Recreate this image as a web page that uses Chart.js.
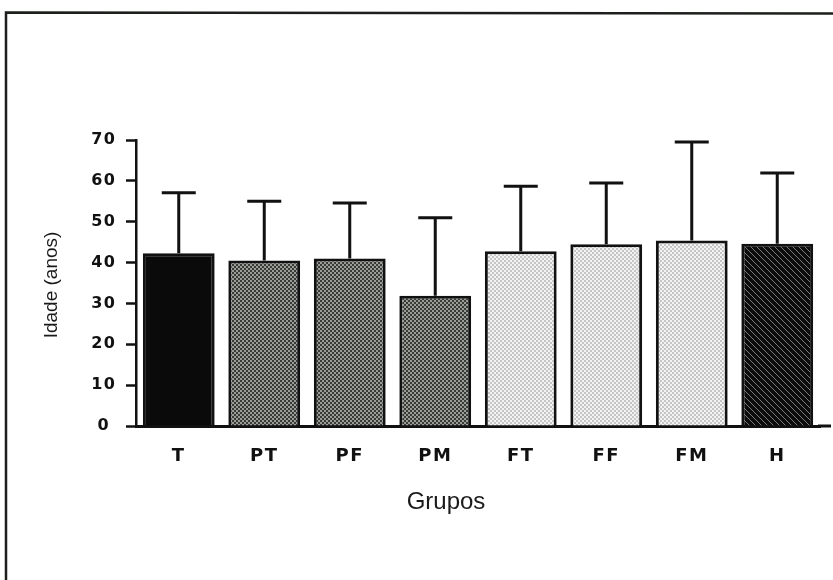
<!DOCTYPE html>
<html>
<head>
<meta charset="utf-8">
<script src="https://cdn.jsdelivr.net/npm/chart.js@4/dist/chart.umd.min.js"></script>
<style>
  html, body { margin: 0; padding: 0; background: #fff; }
  #wrap { width: 833px; height: 580px; }
</style>
</head>
<body>
<div id="wrap"><canvas id="c" width="833" height="580"></canvas></div>
<script>
// ---- data ----
const categories = ['T', 'PT', 'PF', 'PM', 'FT', 'FF', 'FM', 'H'];
const means = [42.3, 40.5, 41.0, 31.9, 42.8, 44.5, 45.4, 44.6];
const sds   = [14.8, 14.5, 13.6, 19.1, 15.9, 15.0, 24.1, 17.3];
const yMin = 0, yMax = 70, yLabelStep = 10, yMinorStep = 5;
const yTitle = 'Idade (anos)';
const xTitle = 'Grupos';

// ---- fill styles ----
const fillKinds = ['solid', 'dark', 'dark', 'dark', 'light', 'light', 'light', 'hatch'];

function makePattern(kind) {
  const c = document.createElement('canvas');
  const g = c.getContext('2d');
  if (kind === 'solid') return '#0a0a0a';
  if (kind === 'dark') {
    c.width = 4; c.height = 4;
    g.fillStyle = '#9a9c98'; g.fillRect(0, 0, 4, 4);
    g.fillStyle = '#393b37'; g.fillRect(0, 0, 2, 2); g.fillRect(2, 2, 2, 2);
  } else if (kind === 'light') {
    c.width = 4; c.height = 4;
    g.fillStyle = '#f3f3f3'; g.fillRect(0, 0, 4, 4);
    g.fillStyle = '#c6c6c6'; g.fillRect(0, 0, 2, 2); g.fillRect(2, 2, 2, 2);
  } else {
    c.width = 6; c.height = 6;
    g.fillStyle = '#0c0c0c'; g.fillRect(0, 0, 6, 6);
    g.fillStyle = '#7a7a7a';
    for (let i = 0; i < 6; i++) g.fillRect(i, i, 1, 1);
  }
  return g.createPattern(c, 'repeat');
}
const fills = fillKinds.map(makePattern);

const INK = '#111';

const framePlugin = {
  id: 'frame',
  beforeDraw(chart) {
    const ctx = chart.ctx;
    ctx.save();
    ctx.fillStyle = '#fff';
    ctx.fillRect(0, 0, chart.width, chart.height);
    ctx.strokeStyle = '#1c1f1c';
    ctx.lineWidth = 2.5;
    ctx.beginPath();
    ctx.moveTo(6, 580);
    ctx.lineTo(6, 12.5);
    ctx.lineTo(833, 13.5);
    ctx.stroke();
    ctx.restore();
    // spaced lettering for tick labels
    ctx.letterSpacing = '1.5px';
  },
  beforeDatasetsDraw(chart) {
    chart.ctx.letterSpacing = '0px';
  },
  afterDatasetsDraw(chart) {
    const ctx = chart.ctx;
    const meta = chart.getDatasetMeta(0);
    const ys = chart.scales.y;
    ctx.save();
    ctx.strokeStyle = INK;
    ctx.lineWidth = 3;
    ctx.lineCap = 'butt';
    meta.data.forEach((bar, i) => {
      const top = ys.getPixelForValue(means[i] + sds[i]);
      ctx.beginPath();
      ctx.moveTo(bar.x, bar.y);
      ctx.lineTo(bar.x, top);
      ctx.moveTo(bar.x - 17, top);
      ctx.lineTo(bar.x + 17, top);
      ctx.stroke();
    });
    ctx.restore();
  },
  afterDraw(chart) {
    const ctx = chart.ctx;
    const xs = chart.scales.x;
    ctx.save();
    ctx.letterSpacing = '0px';
    // extend baseline a little past the last category
    ctx.strokeStyle = INK;
    ctx.lineWidth = 3;
    ctx.beginPath();
    ctx.moveTo(chart.chartArea.right - 2, xs.top);
    ctx.lineTo(831, xs.top);
    ctx.stroke();
    // axis titles
    ctx.fillStyle = '#1a1a1a';
    ctx.textAlign = 'center';
    ctx.textBaseline = 'middle';
    ctx.font = '24px "Liberation Sans", Arial, sans-serif';
    ctx.fillText(xTitle, 446, 502);
    ctx.font = '19px "Liberation Sans", Arial, sans-serif';
    ctx.translate(52, 285);
    ctx.rotate(-Math.PI / 2);
    ctx.fillText(yTitle, 0, 0);
    ctx.restore();
  }
};

new Chart(document.getElementById('c'), {
  type: 'bar',
  data: {
    labels: categories,
    datasets: [{
      data: means,
      backgroundColor: fills,
      borderColor: INK,
      borderWidth: 3,
      barPercentage: 0.84,
      categoryPercentage: 1.0
    }]
  },
  options: {
    responsive: false,
    devicePixelRatio: 1,
    animation: false,
    layout: { padding: { top: 140, right: 13, bottom: 0, left: 0 } },
    plugins: { legend: { display: false }, tooltip: { enabled: false } },
    scales: {
      x: {
        offset: true,
        grid: { display: false },
        border: { display: true, color: INK, width: 3 },
        ticks: {
          color: '#111',
          padding: 12,
          font: { family: '"DejaVu Sans", sans-serif', size: 18, weight: 'bold' }
        },
        afterFit(s) { s.height = 154; }
      },
      y: {
        min: yMin,
        max: yMax,
        grid: {
          display: true,
          drawOnChartArea: false,
          drawTicks: true,
          tickLength: 10,
          tickColor: INK,
          tickWidth: 2.5
        },
        border: { display: true, color: INK, width: 2.5 },
        ticks: {
          stepSize: yMinorStep,
          crossAlign: 'center',
          padding: 11,
          color: '#111',
          font: { family: '"DejaVu Sans", sans-serif', size: 16, weight: 'bold' },
          callback: (v) => (v % yLabelStep === 0 ? String(v) : '')
        },
        afterFit(s) { s.width = 136; }
      }
    }
  },
  plugins: [framePlugin]
});
</script>
</body>
</html>
